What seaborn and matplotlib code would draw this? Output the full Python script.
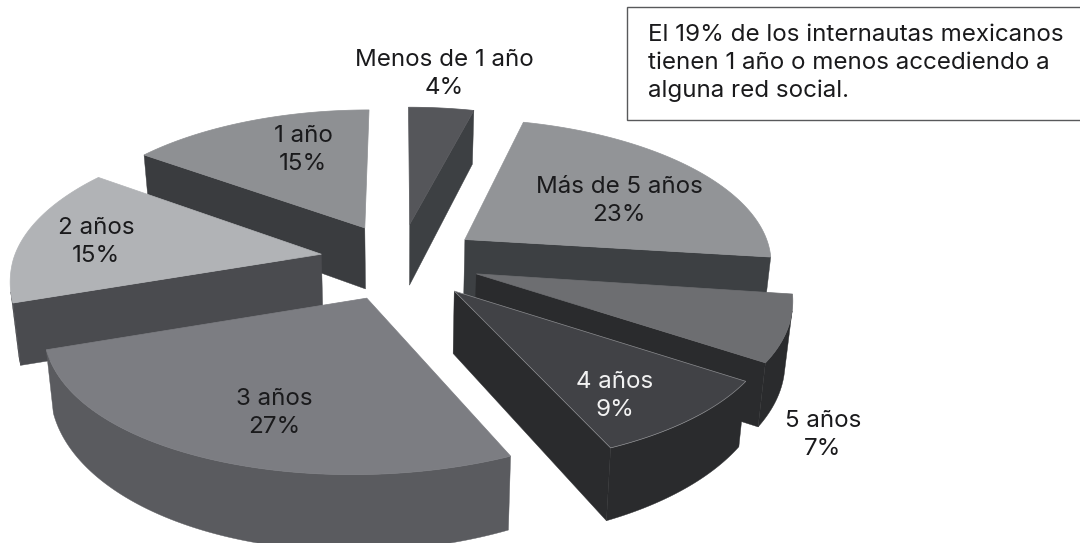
import numpy as np
import matplotlib
matplotlib.use("Agg")
import matplotlib.pyplot as plt
from matplotlib.patches import Polygon
import seaborn as sns

# values, clockwise from 12 o'clock
labels = ["Menos de 1 año", "Más de 5 años", "5 años", "4 años", "3 años", "2 años", "1 año"]
values = [4, 23, 7, 9, 27, 15, 15]
note = "El 19% de los internautas mexicanos\ntienen 1 año o menos accediendo a\nalguna red social."

top_colors = sns.color_palette(["#55565a", "#929497", "#6d6e71", "#414246", "#7c7d82", "#b1b3b6", "#8e9093"])
side_colors = sns.color_palette(["#3d4043", "#3d4043", "#2a2b2d", "#2a2b2d", "#5a5b5f", "#4a4b4f", "#3a3c3f"])
label_xy = [(444, 74), (619, 201), (823, 435), (615, 396), (274, 413), (96, 242), (303, 150)]
label_colors = ["#1a1a1c", "#1a1a1c", "#1a1a1c", "#f2f2f2", "#1a1a1c", "#1a1a1c", "#1a1a1c"]

# projection of the tilted pie onto the page
cx, cy = 400, 260
rx, ry = 308, 143
persp = 0.141
depth = 63
explode = 0.26


def project(u, v, low=False):
    s = 1 / (1 + persp * v)
    x = rx * u * s - 6 * min(v, 0) ** 2
    y = -ry * v * s
    if low:
        return cx + x * 0.98, cy + y + depth * s
    # front part of the top face sags a little in the original
    sag = 5 * np.sin(np.pi * min(-min(v, 0), 1.24) / 1.24)
    return cx + x, cy + y + sag


def area(pts):
    pts = np.array(pts)
    x, y = pts[:, 0], pts[:, 1]
    return 0.5 * np.sum(x * np.roll(y, -1) - np.roll(x, -1) * y)


def draw_wedge(ax, a0, a1, top, side, edge=None):
    mid = (a0 + a1) / 2
    u0, v0 = explode * np.sin(mid), explode * np.cos(mid)
    ts = np.linspace(a0, a1, 120)
    us = u0 + np.sin(ts)
    vs = v0 + np.cos(ts)

    # cut faces, only the ones turned to the viewer (slivers skipped)
    for i, sign in [(0, -1), (-1, 1)]:
        quad = [project(u0, v0), project(us[i], vs[i]),
                project(us[i], vs[i], True), project(u0, v0, True)]
        if area(quad) * sign > 500:
            ax.add_patch(Polygon(quad, closed=True, fc=side, ec=side, lw=0.3))

    # outer rim, runs of front facing segments joined into one polygon
    upper = [project(a, b) for a, b in zip(us, vs)]
    lower = [project(a, b, True) for a, b in zip(us, vs)]
    front = [area([upper[j], upper[j + 1], lower[j + 1], lower[j]]) < 0 for j in range(len(ts) - 1)]
    j = 0
    while j < len(front):
        if front[j]:
            k = j
            while k + 1 < len(front) and front[k + 1]:
                k += 1
            pts = upper[j:k + 2] + lower[j:k + 2][::-1]
            ax.add_patch(Polygon(pts, closed=True, fc=side, ec=side, lw=0.3))
            j = k + 1
        else:
            j += 1

    # top face
    pts = [project(u0, v0)] + upper
    ax.add_patch(Polygon(pts, closed=True, fc=top, ec=edge or top, lw=0.5))


sns.set_theme(style="white")
plt.rcParams["font.family"] = ["Inter", "DejaVu Sans"]

fig, ax = plt.subplots(figsize=(10.8, 5.43), dpi=100)
fig.subplots_adjust(0, 0, 1, 1)
ax.set_xlim(0, 1080)
ax.set_ylim(543, 0)
ax.axis("off")

edges = np.cumsum([0] + values) / sum(values) * 2 * np.pi
mids = (edges[:-1] + edges[1:]) / 2
# back to front
order = np.argsort(-np.cos(mids))
for i in order:
    edge = "#8c8d90" if labels[i] == "4 años" else None
    draw_wedge(ax, edges[i], edges[i + 1], top_colors[i], side_colors[i], edge)

for lab, val, (x, y), col in zip(labels, values, label_xy, label_colors):
    ax.text(x, y, f"{lab}\n{val}%", ha="center", va="center", fontsize=17.4,
            color=col, linespacing=1.36)

ax.add_patch(Polygon([(627, 7), (1082, 7), (1082, 120), (627, 120)], closed=True,
                     fc="white", ec="#58595b", lw=1))
ax.text(648, 63, note, ha="left", va="center", fontsize=17.4, color="#1a1a1c", linespacing=1.36)

fig.savefig("out.png", dpi=100)
